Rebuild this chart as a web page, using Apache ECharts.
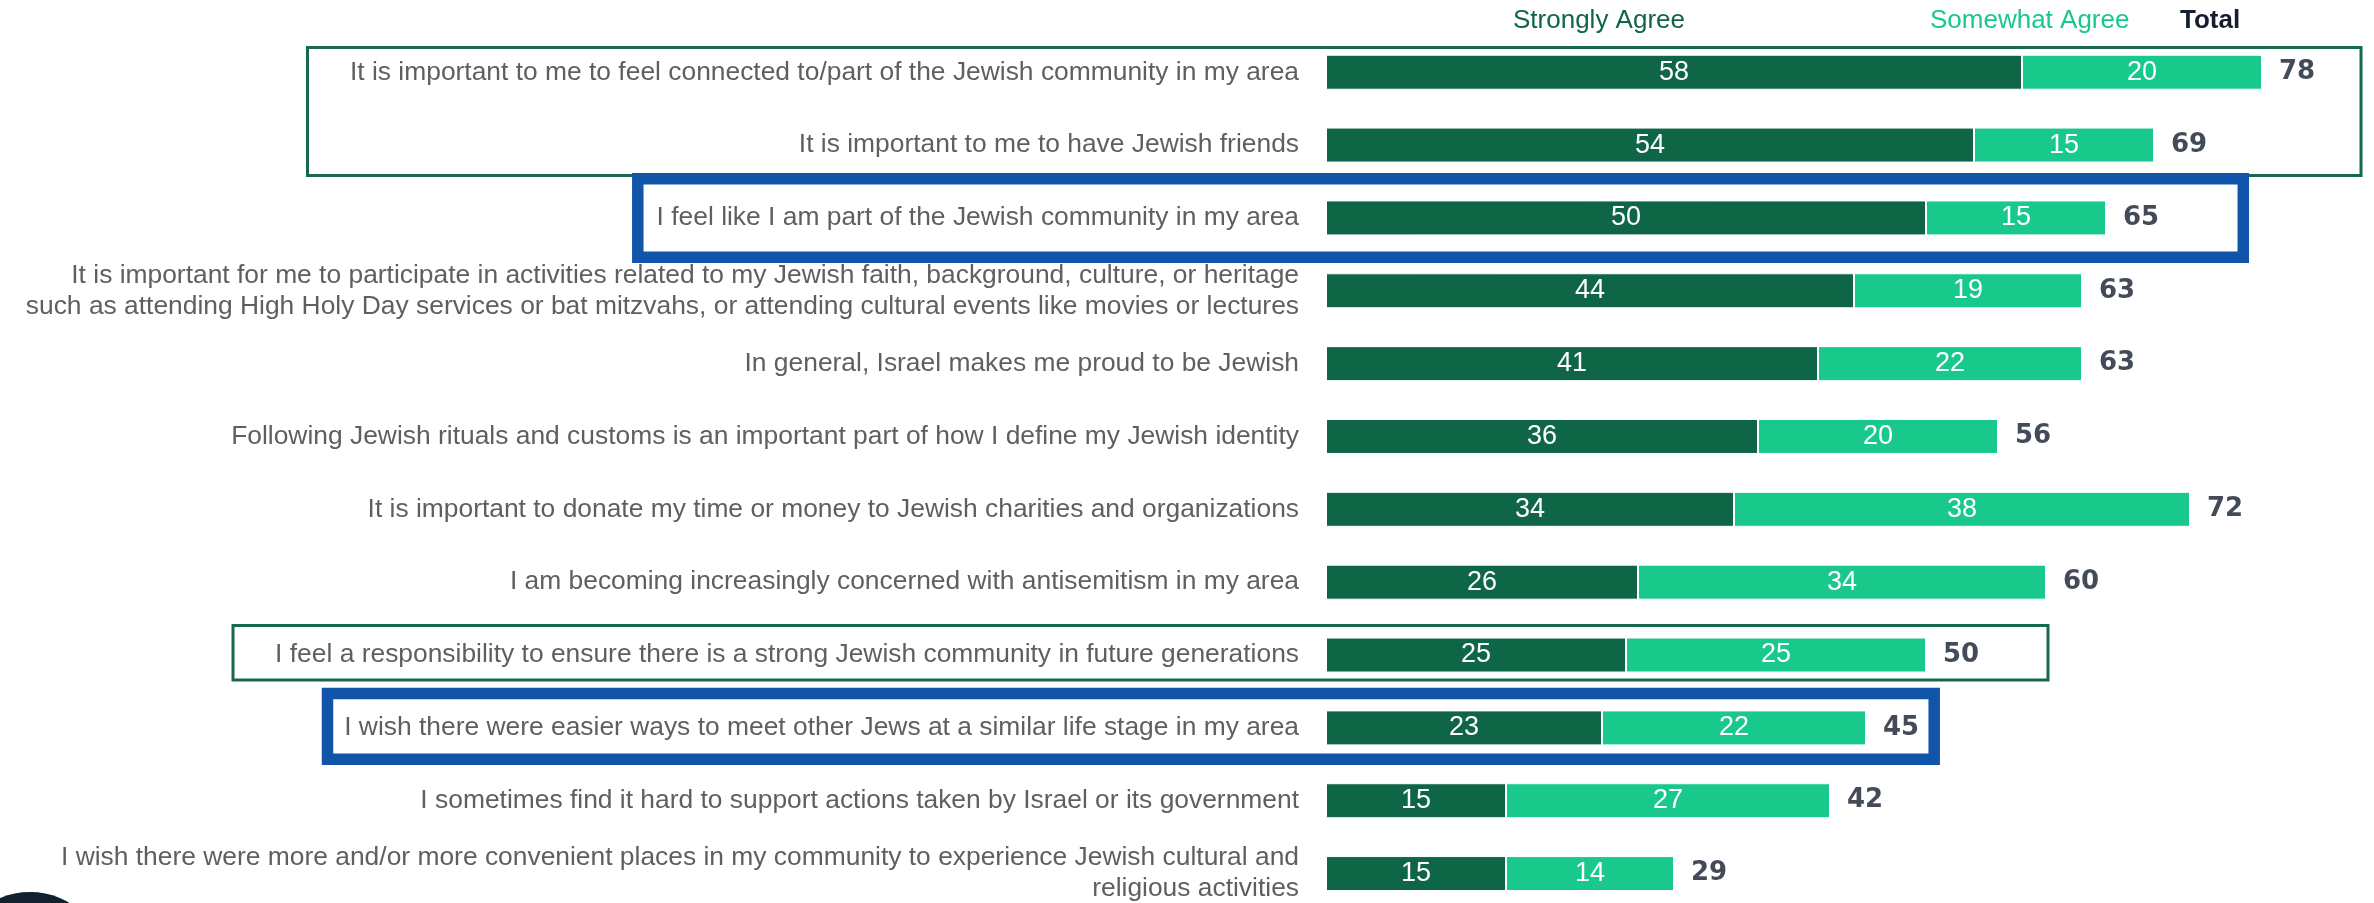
<!DOCTYPE html>
<html>
<head>
<meta charset="utf-8">
<script src="https://cdn.jsdelivr.net/npm/echarts@6/dist/echarts.min.js"></script>
<style>
  html, body { margin: 0; padding: 0; background: #ffffff; overflow: hidden; }
  #chart { width: 2374px; height: 920px; }
</style>
</head>
<body>
<div id="chart"></div>
<script>
// Survey statements, top to bottom
const statements = [
  'It is important to me to feel connected to/part of the Jewish community in my area',
  'It is important to me to have Jewish friends',
  'I feel like I am part of the Jewish community in my area',
  'It is important for me to participate in activities related to my Jewish faith, background, culture, or heritage\nsuch as attending High Holy Day services or bat mitzvahs, or attending cultural events like movies or lectures',
  'In general, Israel makes me proud to be Jewish',
  'Following Jewish rituals and customs is an important part of how I define my Jewish identity',
  'It is important to donate my time or money to Jewish charities and organizations',
  'I am becoming increasingly concerned with antisemitism in my area',
  'I feel a responsibility to ensure there is a strong Jewish community in future generations',
  'I wish there were easier ways to meet other Jews at a similar life stage in my area',
  'I sometimes find it hard to support actions taken by Israel or its government',
  'I wish there were more and/or more convenient places in my community to experience Jewish cultural and\nreligious activities'
];

// Percent agreeing
const stronglyAgree = [58, 54, 50, 44, 41, 36, 34, 26, 25, 23, 15, 15];
const somewhatAgree = [20, 15, 15, 19, 22, 20, 38, 34, 25, 22, 27, 14];
const totals        = [78, 69, 65, 63, 63, 56, 72, 60, 50, 45, 42, 29];

const headerNames = ['Strongly Agree', 'Somewhat Agree', 'Total'];

const DARK = '#0f6646';
const LIGHT = '#19c98c';
const INK = '#141e2e';
const FONT = '"Liberation Sans", Arial, sans-serif';

const chart = echarts.init(document.getElementById('chart'), null, { renderer: 'canvas' });

const insideLabel = {
  show: true,
  position: 'inside',
  color: '#ffffff',
  fontSize: 27,
  fontFamily: FONT
};

chart.setOption({
  animation: false,
  backgroundColor: '#ffffff',
  grid: { left: 1326, top: 35.8, width: 960, height: 874.2, outerBoundsMode: 'none', containLabel: false },
  xAxis: { type: 'value', min: 0, max: 80, show: false },
  yAxis: {
    type: 'category',
    data: statements,
    inverse: true,
    axisLine: { show: false },
    axisTick: { show: false },
    splitLine: { show: false },
    axisLabel: {
      margin: 27,
      fontSize: 26.4,
      lineHeight: 31,
      color: '#5f5f5f',
      fontFamily: FONT,
      align: 'right'
    }
  },
  series: [
    {
      name: headerNames[0],
      type: 'bar',
      stack: 'agree',
      barWidth: 35,
      data: stronglyAgree,
      itemStyle: { color: DARK, borderColor: '#ffffff', borderWidth: 1 },
      label: insideLabel
    },
    {
      name: headerNames[1],
      type: 'bar',
      stack: 'agree',
      barWidth: 35,
      data: somewhatAgree,
      itemStyle: { color: LIGHT, borderColor: '#ffffff', borderWidth: 1 },
      label: insideLabel
    },
    {
      name: headerNames[2],
      type: 'scatter',
      symbolSize: 0,
      data: totals.map((t, i) => [t, i]),
      label: {
        show: true,
        position: 'right',
        distance: 17,
        color: INK,
        fontSize: 26,
        fontWeight: 'bold',
        fontFamily: '"DejaVu Sans", sans-serif',
        formatter: p => String(totals[p.dataIndex])
      }
    }
  ],
  graphic: [
    // column headers
    { type: 'text', left: 1513, top: 8, style: { text: headerNames[0], fill: DARK, font: '26px ' + FONT } },
    { type: 'text', left: 1930, top: 8, style: { text: headerNames[1], fill: LIGHT, font: '26px ' + FONT } },
    { type: 'text', left: 2180, top: 8, style: { text: headerNames[2], fill: INK, font: 'bold 26px ' + FONT } },
    // highlight frames
    { type: 'rect', shape: { x: 307.5, y: 47.5, width: 2053.5, height: 128 }, style: { fill: 'none', stroke: '#17694b', lineWidth: 3 }, z: 10 },
    { type: 'rect', shape: { x: 637.8, y: 178.8, width: 1605.5, height: 78.5 }, style: { fill: 'none', stroke: '#1155aa', lineWidth: 11.5 }, z: 11 },
    { type: 'rect', shape: { x: 233, y: 625.5, width: 1815, height: 54.5 }, style: { fill: 'none', stroke: '#17694b', lineWidth: 3 }, z: 10 },
    { type: 'rect', shape: { x: 327.5, y: 693.5, width: 1606.7, height: 65.8 }, style: { fill: 'none', stroke: '#1155aa', lineWidth: 11.5 }, z: 11 },
    // corner badge
    { type: 'circle', shape: { cx: 30, cy: 970, r: 78 }, style: { fill: '#13202d' }, z: 5 }
  ]
});
</script>
</body>
</html>
